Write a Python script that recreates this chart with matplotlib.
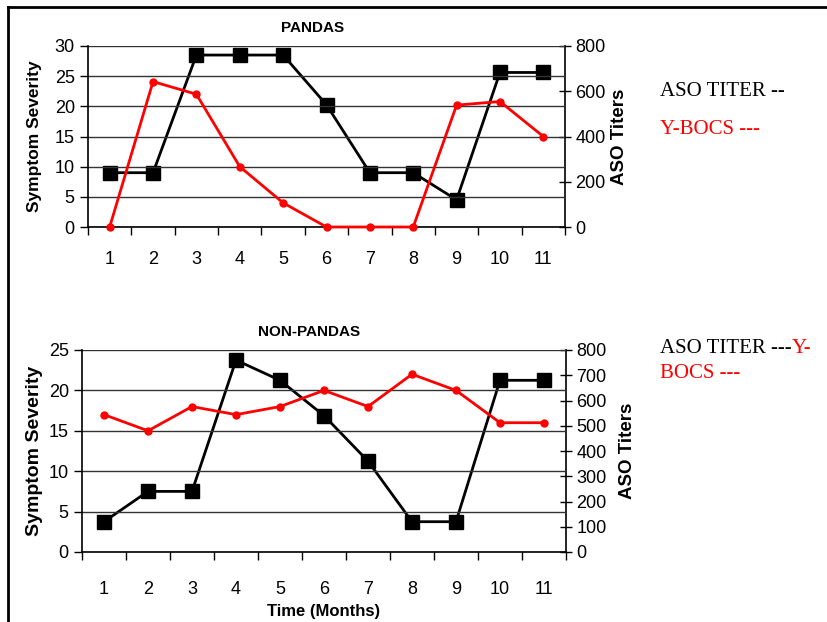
import matplotlib
matplotlib.use("Agg")
from matplotlib import pyplot as plt
from matplotlib.lines import Line2D

months = [1, 2, 3, 4, 5, 6, 7, 8, 9, 10, 11]

# PANDAS
pandas_ybocs = [0, 24.1, 22, 10, 4, 0, 0, 0, 20.2, 20.8, 15]
pandas_aso = [240, 240, 760, 760, 760, 540, 240, 240, 120, 683, 683]

# NON-PANDAS
non_ybocs = [17, 15, 18, 17, 18, 20, 18, 22, 20, 16, 16]
non_aso = [120, 240, 240, 760, 680, 540, 360, 120, 120, 680, 680]

plt.rcParams['font.family'] = ['Liberation Sans', 'DejaVu Sans']

W, H = 827, 622
fig = plt.figure(figsize=(8.27, 6.22), dpi=100)


def px_axes(x0, y_top, x1, y_bot):
    return fig.add_axes([x0 / W, (H - y_bot) / H, (x1 - x0) / W, (y_bot - y_top) / H])


def draw_panel(ax, ybocs, aso, ymax, rstep, title, ylab_size, xpad, lpad, rpad, xlabel=None):
    ax.set_xlim(0.5, 11.5)
    ax.set_ylim(0, ymax)
    ax.set_yticks(range(0, ymax + 1, 5))
    ax.yaxis.grid(True, color='#333333', linewidth=1)
    ax.set_axisbelow(True)
    ax.set_xticks([m + 0.5 for m in [0] + months])
    ax.set_xticklabels([])
    ax.set_xticks(months, minor=True)
    ax.set_xticklabels([str(m) for m in months], minor=True)
    ax.tick_params(axis='x', which='major', direction='out', length=6, width=1)
    ax.tick_params(axis='x', which='minor', length=0, labelsize=13, pad=xpad)
    ax.tick_params(axis='y', direction='out', length=6, width=1, labelsize=13)
    for s in ['top', 'right']:
        ax.spines[s].set_visible(False)
    ax.spines['left'].set_linewidth(1.2)
    ax.spines['bottom'].set_linewidth(1.2)
    ax.set_ylabel('Symptom Severity', fontsize=ylab_size, fontweight='bold', labelpad=lpad)
    ax.set_title(title, fontsize=11, fontweight='bold', pad=10, x=0.47)
    if xlabel:
        ax.set_xlabel(xlabel, fontsize=12, fontweight='bold', labelpad=4)

    ax2 = ax.twinx()
    ax2.set_ylim(0, 800)
    ax2.set_yticks(range(0, 801, rstep))
    ax2.tick_params(axis='y', direction='inout', length=8, width=1, labelsize=13)
    for s in ['top', 'left', 'bottom']:
        ax2.spines[s].set_visible(False)
    ax2.spines['right'].set_linewidth(1.2)
    ax2.set_ylabel('ASO Titers', fontsize=13.5, fontweight='bold', labelpad=rpad)

    ax.plot(months, ybocs, color='red', linewidth=2, marker='o', markersize=5,
            zorder=3, clip_on=False)
    ax2.plot(months, aso, color='black', linewidth=2, marker='s', markersize=10,
             zorder=4, clip_on=False)
    ax.set_zorder(ax2.get_zorder() + 1)
    ax.patch.set_visible(False)
    return ax2


ax_top = px_axes(88, 46, 565, 227)
draw_panel(ax_top, pandas_ybocs, pandas_aso, 30, 200, 'PANDAS', 12.5, 17, 9, 4)

ax_bot = px_axes(82, 350, 566, 552)
draw_panel(ax_bot, non_ybocs, non_aso, 25, 100, 'NON-PANDAS', 14, 21, 4, 9, 'Time (Months)')

# legend-like text in serif
serif = ['Liberation Serif', 'DejaVu Serif']
fs = 15
fig.text(660 / W, 1 - 92 / H, 'ASO TITER --', family=serif, fontsize=fs,
         color='black', va='center')
fig.text(660 / W, 1 - 130 / H, 'Y-BOCS ---', family=serif, fontsize=fs,
         color='red', va='center')
t = fig.text(660 / W, 1 - 349 / H, 'ASO TITER ---', family=serif, fontsize=fs,
             color='black', va='center')
fig.canvas.draw()
bb = t.get_window_extent()
fig.text(bb.x1 / W, 1 - 349 / H, 'Y-', family=serif, fontsize=fs,
         color='red', va='center')
fig.text(660 / W, 1 - 373 / H, 'BOCS ---', family=serif, fontsize=fs,
         color='red', va='center')

# page border lines
fig.add_artist(Line2D([8 / W, 8 / W], [0, 1 - 7 / H], color='black', linewidth=2))
fig.add_artist(Line2D([8 / W, 1], [1 - 7 / H, 1 - 7 / H], color='black', linewidth=2))

fig.savefig('out.png', dpi=100)
